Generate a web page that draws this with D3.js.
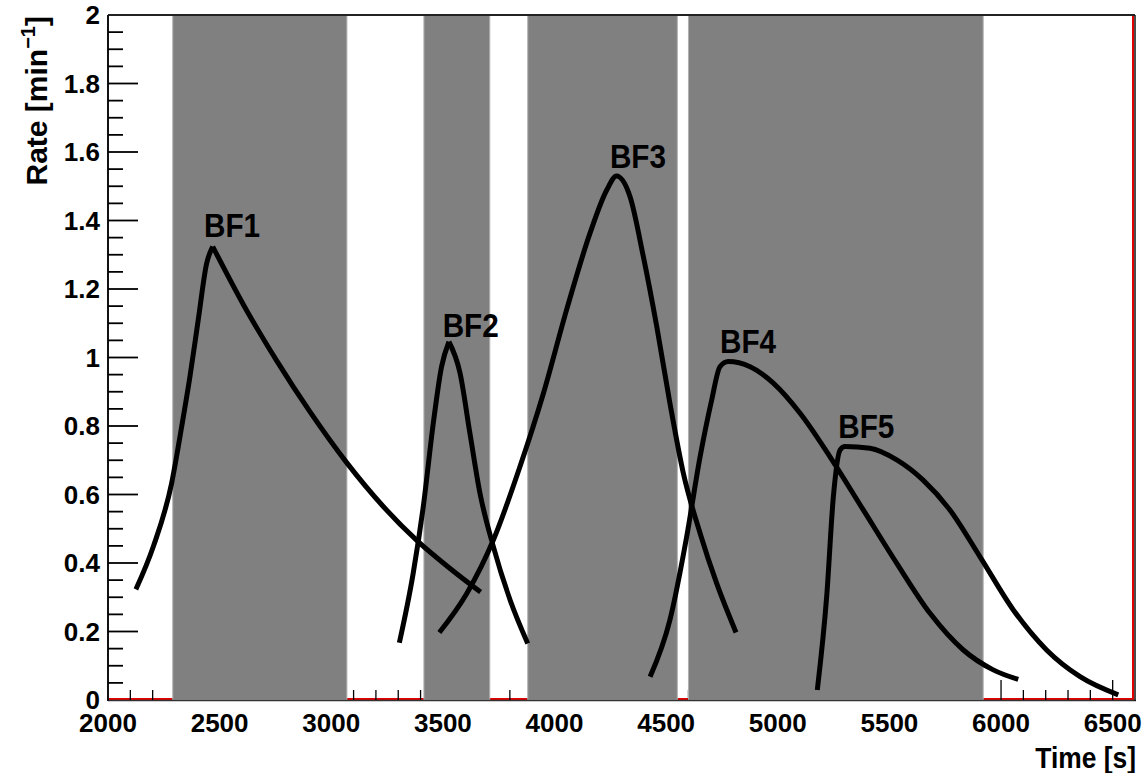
<!DOCTYPE html>
<html>
<head>
<meta charset="utf-8">
<script src="https://cdn.jsdelivr.net/npm/d3@7"></script>
<style>
  body{margin:0;background:#fff;}
  text{font-family:"Liberation Sans",Arial,Helvetica,sans-serif;font-weight:bold;fill:#000;}
</style>
</head>
<body>
<div id="chart"></div>
<script>
// beam-off windows [start, end] in s
let bands=[[2290,3070],[3415,3710],[3880,4550],[4600,5920]];

// rate curves [time s, rate 1/min]
let bf1=[[2125,0.323],[2203,0.448],[2285,0.633],[2330,0.798],[2367,0.944],[2404,1.109],[2442,1.275],[2469,1.324],
  [2606,1.155],[2756,0.990],[2905,0.841],[3069,0.693],[3233,0.565],[3383,0.466],[3532,0.384],[3669,0.315]];
let bf2=[[3305,0.167],[3367,0.370],[3412,0.564],[3457,0.808],[3494,0.973],[3527,1.046],
  [3577,0.954],[3621,0.779],[3666,0.604],[3726,0.448],[3801,0.292],[3880,0.165]];
let bf3=[[3484,0.197],[3607,0.311],[3726,0.467],[3845,0.681],[3950,0.895],[4054,1.139],[4159,1.363],[4234,1.489],[4278,1.530],
  [4338,1.470],[4398,1.294],[4458,1.090],[4517,0.866],[4577,0.662],[4652,0.487],[4726,0.341],[4813,0.197]];
let bf4=[[4428,0.068],[4517,0.234],[4592,0.477],[4652,0.710],[4704,0.876],[4741,0.973],[4778,0.988],
  [4876,0.973],[4980,0.925],[5100,0.837],[5234,0.710],[5383,0.555],[5533,0.399],[5682,0.253],[5831,0.146],[5965,0.088],[6077,0.060]];
let bf5=[[5177,0.029],[5219,0.302],[5249,0.594],[5279,0.730],[5301,0.740],
  [5413,0.735],[5533,0.701],[5651,0.642],[5771,0.555],[5906,0.418],[6055,0.263],[6204,0.146],[6354,0.068],[6525,0.015]];

let curveNames=[`BF1`,`BF2`,`BF3`,`BF4`,`BF5`];
// BF1 and BF2 have a cusp at the peak
let sharpPeak=[true,true,false,false,false];
// label anchors (time, rate) next to each peak
let labelAnchors=[[2430,1.352],[3499,1.061],[4248,1.552],[4741,1.012],[5271,0.764]];

let xTicks=[2000,2500,3000,3500,4000,4500,5000,5500,6000,6500];
let yTicks=[0,0.2,0.4,0.6,0.8,1,1.2,1.4,1.6,1.8,2];

let format={width:1142,height:773,margin:{left:108,top:15,right:7,bottom:73}};
let w=format.width-format.margin.left-format.margin.right;
let h=format.height-format.margin.top-format.margin.bottom;

let svg=d3.select(`#chart`).append(`svg`)
  .attr(`width`,format.width)
  .attr(`height`,format.height);
let g=svg.append(`g`)
  .attr(`transform`,`translate(${format.margin.left},${format.margin.top})`);

let x=d3.scaleLinear().domain([2000,6600]).range([0,w]);
let y=d3.scaleLinear().domain([0,2]).range([h,0]);

//empty histogram outline in red
g.append(`path`)
  .attr(`d`,`M0,${y(0)-1}H${x(6600)-2}V${y(2)}`)
  .attr(`fill`,`none`).attr(`stroke`,`#e00000`).attr(`stroke-width`,2);

//x ticks (drawn under the bands)
let xMinor=d3.range(2100,6600,100);
g.append(`g`).selectAll(`line`).data(xMinor).enter().append(`line`)
  .attr(`x1`,d=>x(d)).attr(`x2`,d=>x(d))
  .attr(`y1`,h).attr(`y2`,d=>d%500==0?h-20:h-10)
  .attr(`stroke`,`#000`).attr(`stroke-width`,1.3);

//grey bands
g.append(`g`).selectAll(`rect`).data(bands).enter().append(`rect`)
  .attr(`x`,d=>x(d[0])).attr(`width`,d=>x(d[1])-x(d[0]))
  .attr(`y`,0).attr(`height`,h)
  .attr(`fill`,`#808080`).attr(`stroke`,`#b0b0b0`).attr(`stroke-width`,1);

//frame
g.append(`line`).attr(`x1`,0).attr(`x2`,w).attr(`y1`,0).attr(`y2`,0).attr(`stroke`,`#222`).attr(`stroke-width`,2);
g.append(`line`).attr(`x1`,0).attr(`x2`,w+1).attr(`y1`,h+0.5).attr(`y2`,h+0.5).attr(`stroke`,`#333`).attr(`stroke-width`,1.5);
g.append(`line`).attr(`x1`,0).attr(`x2`,0).attr(`y1`,0).attr(`y2`,h+1).attr(`stroke`,`#111`).attr(`stroke-width`,2);
g.append(`line`).attr(`x1`,w).attr(`x2`,w).attr(`y1`,0).attr(`y2`,h+1).attr(`stroke`,`#111`).attr(`stroke-width`,1.5);

//y ticks, pointing inwards
let yMinor=d3.range(0.05,2,0.05);
g.append(`g`).selectAll(`line`).data(yMinor).enter().append(`line`)
  .attr(`x1`,0).attr(`x2`,(d,i)=>(i+1)%4==0?30:15)
  .attr(`y1`,d=>y(d)).attr(`y2`,d=>y(d))
  .attr(`stroke`,`#000`).attr(`stroke-width`,1.8);

//tick labels
g.append(`g`).selectAll(`text`).data(yTicks).enter().append(`text`)
  .attr(`x`,-8).attr(`y`,d=>y(d))
  .attr(`dy`,`0.36em`)
  .attr(`text-anchor`,`end`)
  .style(`font-size`,`26px`)
  .text(d=>d3.format(`~g`)(d));
g.append(`g`).selectAll(`text`).data(xTicks).enter().append(`text`)
  .attr(`x`,d=>x(d)).attr(`y`,h+32)
  .attr(`text-anchor`,`middle`)
  .style(`font-size`,`26px`)
  .text(d=>d);

//axis titles
svg.append(`text`)
  .attr(`transform`,`translate(1136,768) scale(0.88,1)`)
  .attr(`text-anchor`,`end`)
  .style(`font-size`,`30px`)
  .text(`Time [s]`);
let yt=svg.append(`text`)
  .attr(`transform`,`translate(47,16) rotate(-90)`)
  .attr(`text-anchor`,`end`)
  .style(`font-size`,`30px`);
yt.append(`tspan`).text(`Rate [min`);
yt.append(`tspan`).attr(`dy`,-12).style(`font-size`,`20px`).text(`\u22121`);
yt.append(`tspan`).attr(`dy`,12).text(`]`);

//curves: split at the peak where the curve has a cusp
let line=d3.line()
  .x(d=>x(d[0]))
  .y(d=>y(d[1]))
  .curve(d3.curveMonotoneX);
let pieces=[];
[bf1,bf2,bf3,bf4,bf5].forEach((c,i)=>{
  if(sharpPeak[i]){
    let k=d3.maxIndex(c,d=>d[1]);
    pieces.push(c.slice(0,k+1),c.slice(k));
  }
  else pieces.push(c);
});
g.append(`g`).selectAll(`path`).data(pieces).enter().append(`path`)
  .attr(`d`,line)
  .attr(`fill`,`none`)
  .attr(`stroke`,`#000`)
  .attr(`stroke-width`,5)
  .attr(`stroke-linejoin`,`miter`);

//peak labels
g.append(`g`).selectAll(`text`).data(curveNames).enter().append(`text`)
  .attr(`transform`,(d,i)=>`translate(${x(labelAnchors[i][0])},${y(labelAnchors[i][1])}) scale(0.9,1)`)
  .style(`font-size`,`33px`)
  .text(d=>d);
</script>
</body>
</html>
